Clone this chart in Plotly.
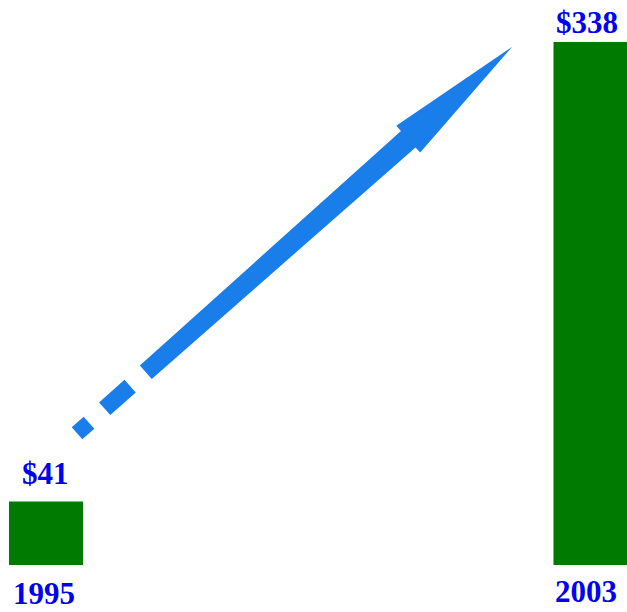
import plotly.graph_objects as go

# Revenue figures (in $) for the two years compared
years = ["1995", "2003"]
values = [41, 338]
value_labels = ["$41", "$338"]

W, H = 627, 612
BAR_GREEN = "#007a00"
TEXT_BLUE = "#0000f0"
ARROW_BLUE = "#1a7eea"
FONT = dict(family="Liberation Serif", size=31, color=TEXT_BLUE)

positions = list(range(len(years)))

fig = go.Figure()
fig.add_trace(go.Bar(
    x=positions, y=values, width=0.136,
    marker=dict(color=BAR_GREEN, line=dict(width=0)),
    hoverinfo="skip",
))

# Value labels above each bar, year labels below the baseline
value_shift = [28, 20]
year_shift = [-28, -26]
x_shift = [-1, -4]
for i, (yr, v, lab) in enumerate(zip(years, values, value_labels)):
    fig.add_annotation(x=positions[i], y=v, xref="x", yref="y",
                       text=f"<b>{lab}</b>", showarrow=False, borderpad=0,
                       yanchor="middle", yshift=value_shift[i], xshift=x_shift[i], font=FONT)
    fig.add_annotation(x=positions[i], y=0, xref="x", yref="y",
                       text=f"<b>{yr}</b>", showarrow=False, borderpad=0,
                       yanchor="middle", yshift=year_shift[i], xshift=x_shift[i] - 1, font=FONT)

# Dashed growth arrow, built in a local (along, across) frame and mapped to paper space
ox, oy = 83, 428
ux, uy = 0.7477, -0.664
nx, ny = 0.664, 0.7477


def to_paper(s, t):
    px = ox + s * ux + t * nx
    py = oy + s * uy + t * ny
    return px / W, 1 - py / H


def poly_path(pts):
    coords = [to_paper(s, t) for s, t in pts]
    return "M " + " L ".join(f"{x:.5f},{y:.5f}" for x, y in coords) + " Z"


arrow_parts = [
    [(-8, -8), (8, -8), (8, 8), (-8, 8)],
    [(29, -8.5), (63, -8.5), (63, 8.5), (29, 8.5)],
    [(84, -9), (435, -11), (435, -18), (574, 0), (435, 18), (435, 11), (84, 9)],
]
for part in arrow_parts:
    fig.add_shape(type="path", path=poly_path(part), xref="paper", yref="paper",
                  fillcolor=ARROW_BLUE, line=dict(width=0), layer="above")

# Axis ranges chosen so the plotting area spans the whole figure
x0 = -46 / 544.5
x1 = x0 + W / 544.5
scale = 523 / 338
y0 = -47 / scale
y1 = y0 + H / scale

fig.update_layout(
    width=W, height=H,
    margin=dict(l=0, r=0, t=0, b=0),
    paper_bgcolor="white", plot_bgcolor="white",
    showlegend=False,
    xaxis=dict(range=[x0, x1], showticklabels=False, showgrid=False, zeroline=False,
               showline=False, ticks="", fixedrange=True),
    yaxis=dict(range=[y0, y1], showticklabels=False, showgrid=False, zeroline=False,
               showline=False, ticks="", fixedrange=True),
)

fig.write_html("out.html", config={"displayModeBar": False})
